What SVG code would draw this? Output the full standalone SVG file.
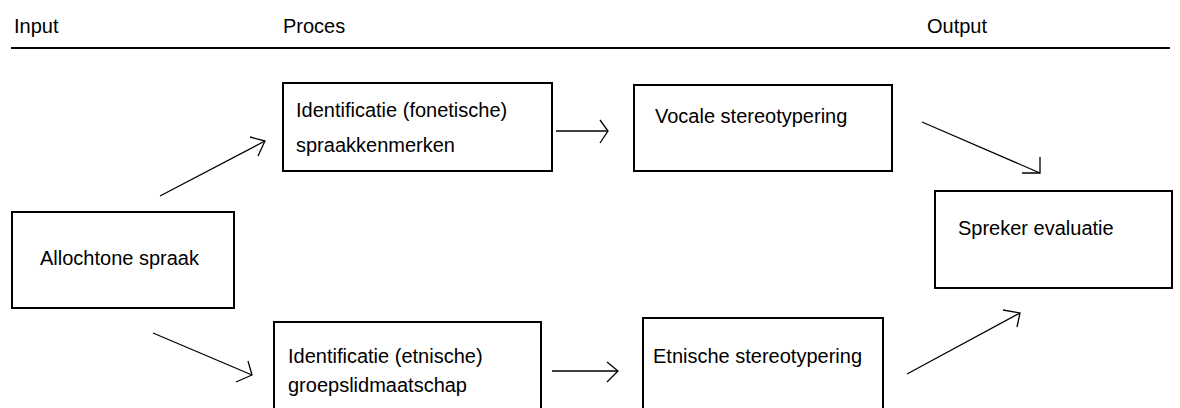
<svg xmlns="http://www.w3.org/2000/svg" width="1180" height="408" viewBox="0 0 1180 408">
  <style>
    text { font-family: "Liberation Sans", Arial, sans-serif; font-size: 20px; fill: #000; }
    .box { fill: #fff; stroke: #000; stroke-width: 2; }
    .conn { fill: none; stroke: #000; stroke-width: 1.3; }
    .rule { stroke: #000; stroke-width: 2; }
  </style>
  <rect width="1180" height="408" fill="#fff"/>

  <!-- column headings -->
  <g id="headings">
    <text x="14" y="33">Input</text>
    <text x="283" y="33">Proces</text>
    <text x="927" y="33">Output</text>
    <line class="rule" x1="11" y1="48" x2="1170" y2="48"/>
  </g>

  <g id="allochtone-spraak">
    <rect class="box" x="12" y="212" width="222" height="96"/>
    <text x="40" y="265">Allochtone spraak</text>
  </g>

  <g id="identificatie-fonetisch">
    <rect class="box" x="283" y="83" width="269" height="88"/>
    <text x="296" y="117">Identificatie (fonetische)</text>
    <text x="296" y="152">spraakkenmerken</text>
  </g>

  <g id="vocale-stereotypering">
    <rect class="box" x="634" y="85" width="258" height="86"/>
    <text x="655" y="123">Vocale stereotypering</text>
  </g>

  <g id="identificatie-etnisch">
    <rect class="box" x="274" y="322" width="267" height="100"/>
    <text x="288" y="363">Identificatie (etnische)</text>
    <text x="288" y="392">groepslidmaatschap</text>
  </g>

  <g id="etnische-stereotypering">
    <rect class="box" x="643" y="318" width="240" height="104"/>
    <text x="653" y="363">Etnische stereotypering</text>
  </g>

  <g id="spreker-evaluatie">
    <rect class="box" x="935" y="191" width="237" height="97"/>
    <text x="958" y="235">Spreker evaluatie</text>
  </g>

  <!-- connectors: shaft plus open two-stroke head -->
  <g id="connectors">
    <line class="conn" x1="160" y1="196" x2="265" y2="141"/>
    <polyline class="conn" points="250,137 265,141 258,156"/>

    <line class="conn" x1="153" y1="333" x2="252" y2="375"/>
    <polyline class="conn" points="248,361 252,375 236,382"/>

    <line class="conn" x1="556" y1="131" x2="608" y2="131"/>
    <polyline class="conn" points="600,120 608,131 600,143"/>

    <line class="conn" x1="552" y1="371" x2="618" y2="371"/>
    <polyline class="conn" points="607,362 618,371 607,382"/>

    <line class="conn" x1="922" y1="122" x2="1040" y2="173"/>
    <polyline class="conn" points="1040,157 1040,173 1022,173"/>

    <line class="conn" x1="907" y1="374" x2="1020" y2="313"/>
    <polyline class="conn" points="1003,310 1020,313 1017,327"/>
  </g>
</svg>
